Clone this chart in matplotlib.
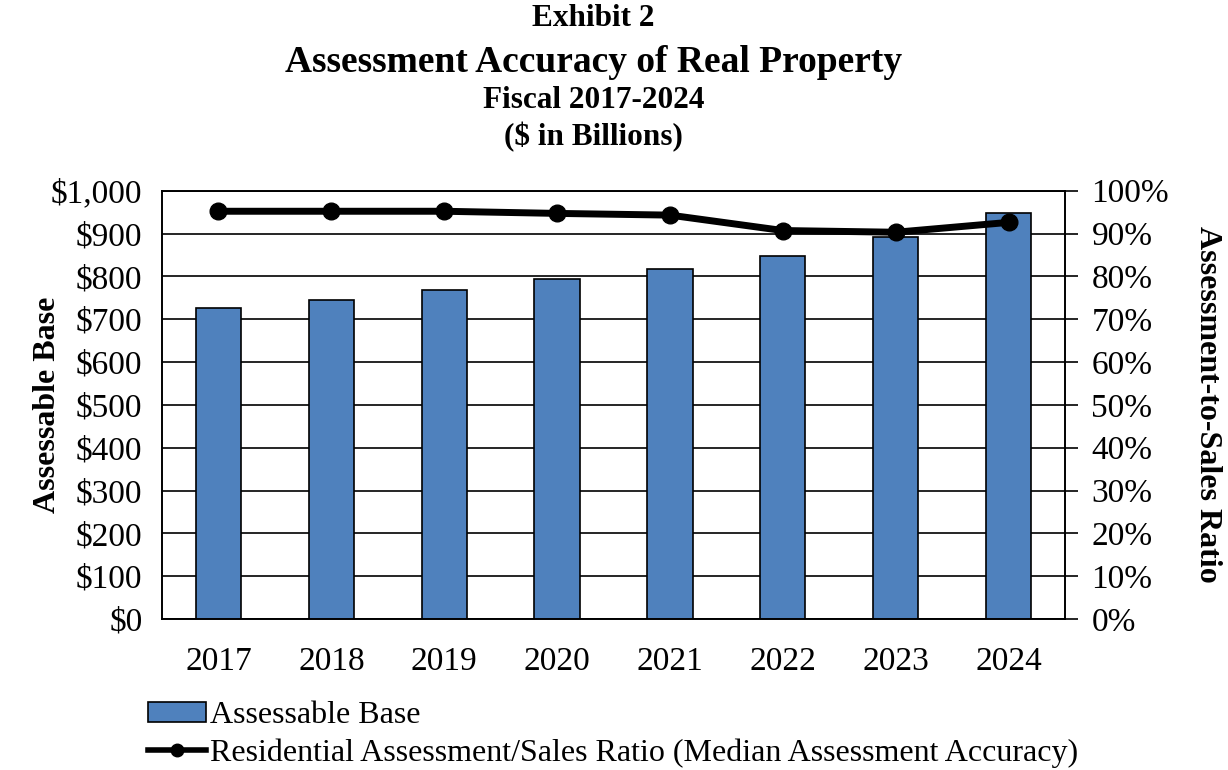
import numpy as np
import matplotlib.pyplot as plt
from matplotlib.ticker import FuncFormatter
from matplotlib.lines import Line2D
from matplotlib.patches import Patch

plt.rcParams["font.family"] = ["Liberation Serif", "DejaVu Serif"]

anos = ["2017", "2018", "2019", "2020", "2021", "2022", "2023", "2024"]
base_tributavel = [727, 745, 769, 794, 818, 847, 891, 947]  # $ bilhões
razao_avaliacao = [95.2, 95.2, 95.2, 94.7, 94.3, 90.7, 90.3, 92.6]  # %

cor_barra = "#4f81bd"

fig = plt.figure(figsize=(12.28, 7.7), dpi=100)
ax = fig.add_axes([162 / 1228, 1 - 619 / 770, (1065 - 162) / 1228, (619 - 190.7) / 770])
ax2 = ax.twinx()

x = np.arange(len(anos))
ax.bar(x, base_tributavel, width=0.4, color=cor_barra, edgecolor="black", linewidth=1.2, zorder=3)
ax.set_xlim(-0.5, len(anos) - 0.5)
ax.set_ylim(0, 1000)
ax.set_yticks(np.arange(0, 1001, 100))
ax.yaxis.set_major_formatter(FuncFormatter(lambda v, p: "${:,.0f}".format(v)))
ax.grid(axis="y", color="black", linewidth=1.2, zorder=0)
ax.set_axisbelow(True)
ax.set_xticks(x)
ax.set_xticklabels(anos)
ax.tick_params(axis="x", length=0, labelsize=24, pad=20)
ax.tick_params(axis="y", direction="in", length=0, labelsize=24, pad=14)
ax.set_ylabel("Assessable Base", fontsize=23, fontweight="bold", labelpad=-8)

ax2.plot(x, razao_avaliacao, color="black", linewidth=5, marker="o", markersize=12, zorder=5)
ax2.set_ylim(0, 100)
ax2.set_yticks(np.arange(0, 101, 10))
ax2.yaxis.set_major_formatter(FuncFormatter(lambda v, p: "{:.0f}%".format(v)))
ax2.tick_params(axis="y", direction="out", length=9, width=1.2, labelsize=24, pad=10)
ax2.set_ylabel("Assessment-to-Sales Ratio", fontsize=23, fontweight="bold",
               rotation=270, labelpad=38)

for eixo in (ax, ax2):
    for lado in eixo.spines.values():
        lado.set_linewidth(1.2)
        lado.set_color("black")

# titulos
fig.text(0.4835, 1 - 19 / 770, "Exhibit 2", ha="center", va="center", fontsize=22.5, fontweight="bold")
fig.text(0.4835, 1 - 63 / 770, "Assessment Accuracy of Real Property", ha="center", va="center",
         fontsize=27, fontweight="bold")
fig.text(0.4835, 1 - 101 / 770, "Fiscal 2017-2024", ha="center", va="center", fontsize=22.5, fontweight="bold")
fig.text(0.4835, 1 - 137 / 770, "($ in Billions)", ha="center", va="center", fontsize=22.5, fontweight="bold")

# legenda
itens = [Patch(facecolor=cor_barra, edgecolor="black", linewidth=1.2),
         Line2D([0], [0], color="black", linewidth=4, marker="o", markersize=9)]
rotulos = ["Assessable Base",
           "Residential Assessment/Sales Ratio (Median Assessment Accuracy)"]
fig.legend(itens, rotulos, loc="upper left", bbox_to_anchor=(148 / 1228, 1 - 701 / 770),
           frameon=False, fontsize=23, handlelength=1.8, handleheight=0.6, handletextpad=0.15,
           labelspacing=0.27, borderaxespad=0, borderpad=0)

plt.savefig("out.png", dpi=100)
